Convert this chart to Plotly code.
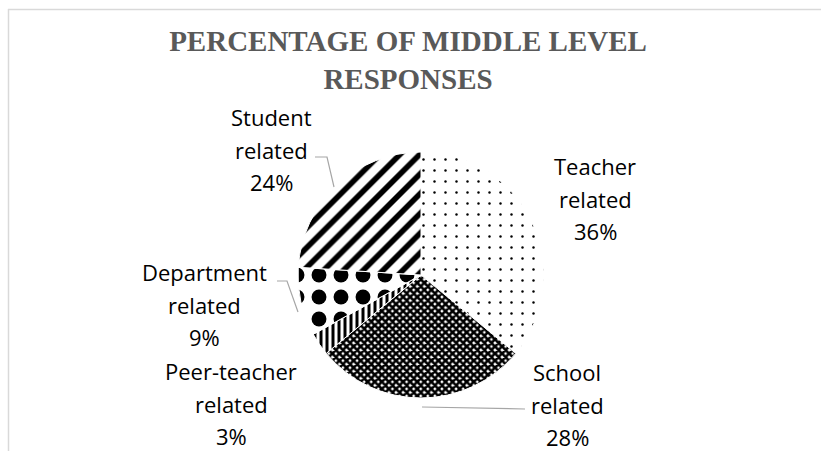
import plotly.graph_objects as go

W, H = 821, 451

# data
labels = ["Teacher related", "School related", "Peer-teacher related",
          "Department related", "Student related"]
values = [36, 28, 3, 9, 24]

# look of each slice (pattern shape, fg, bg, size, solidity)
shapes_ = [".", "x", "|", ".", "/"]
fgcols = ["black", "black", "black", "black", "black"]
bgcols = ["white", "white", "white", "white", "white"]
psizes = [11, 5, 6, 22, 14]
solid = [0.04, 0.78, 0.5, 0.36, 0.4]

# label positions in pixels (x centre, first line y)
label_pos = [(595, 166), (567, 372), (231, 371), (204, 272), (271, 117)]
line_gap = 32.5


def px(x):
    return x / W


def py(y):
    return 1 - y / H


fig = go.Figure(go.Pie(
    labels=labels,
    values=values,
    sort=False,
    direction="clockwise",
    rotation=0,
    textinfo="none",
    hoverinfo="label+percent",
    showlegend=False,
    domain=dict(x=[px(297), px(545)], y=[py(398), py(152)]),
    marker=dict(
        colors=bgcols,
        line=dict(color="white", width=1),
        pattern=dict(shape=shapes_, fgcolor=fgcols, bgcolor=bgcols,
                     size=psizes, solidity=solid, fillmode="replace"),
    ),
))

annos = []
for (lx, ly), lab, v in zip(label_pos, labels, values):
    lines = lab.split(" ") + [f"{v}%"]
    for i, t in enumerate(lines):
        annos.append(dict(
            x=px(lx), y=py(ly + i * line_gap), xref="paper", yref="paper",
            text=t, showarrow=False, xanchor="center", yanchor="middle",
            font=dict(family="Open Sans", size=22, color="black"),
        ))

# leader lines
leaders = [
    [(315, 157), (327, 157), (334, 187)],   # Student
    [(277, 281), (287, 281), (298, 312)],   # Department
    [(422, 407), (525, 409)],               # School
]
shp = []
for pts in leaders:
    path = "M " + " L ".join(f"{px(x)},{py(y)}" for x, y in pts)
    shp.append(dict(type="path", path=path, xref="paper", yref="paper",
                    line=dict(color="#a6a6a6", width=1.2)))

# chart frame (top and left edges visible)
shp.append(dict(type="line", xref="paper", yref="paper",
                x0=px(8), x1=1, y0=py(9.5), y1=py(9.5),
                line=dict(color="#d9d9d9", width=1.5)))
shp.append(dict(type="line", xref="paper", yref="paper",
                x0=px(8.5), x1=px(8.5), y0=py(9), y1=0,
                line=dict(color="#d9d9d9", width=1.5)))

fig.update_layout(
    width=W, height=H,
    margin=dict(l=0, r=0, t=0, b=0),
    paper_bgcolor="white",
    plot_bgcolor="white",
    title=dict(
        text="PERCENTAGE OF MIDDLE LEVEL<br>RESPONSES",
        x=px(408), y=py(51), xanchor="center", yanchor="middle",
        xref="paper", yref="paper",
        font=dict(family="Liberation Serif", size=29, color="#595959",
                  weight="bold"),
    ),
    annotations=annos,
    shapes=shp,
)

fig.write_html("out.html", config={"displayModeBar": False},
               post_script="document.body.style.margin='0px';")
